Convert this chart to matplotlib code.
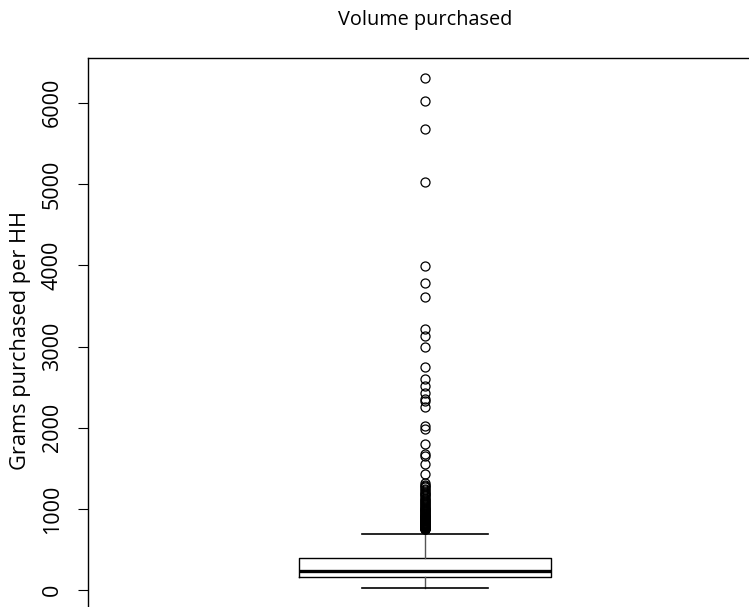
import matplotlib
matplotlib.use("Agg")
import matplotlib.pyplot as plt

plt.rcParams['font.family'] = ['Open Sans', 'DejaVu Sans']

# box summary (grams per household)
q1, median, q3 = 164, 237, 397
whisker_low, whisker_high = 28, 693

# outliers above the upper whisker
dense_outliers = [752, 756, 760, 763, 767, 770, 773, 776, 781, 785, 788, 792,
                  795, 801, 806, 810, 812, 816, 820, 826, 830, 833, 840, 844,
                  848, 855, 862, 866, 870, 878, 886, 893, 900, 905, 910, 918,
                  925, 935, 944, 952, 960, 970, 980, 990, 1000, 1005, 1012,
                  1025, 1035, 1048, 1060, 1072, 1085, 1098, 1110, 1125, 1140,
                  1155, 1170, 1185, 1200, 1215, 1232, 1250, 1268, 1285, 1300, 1318]
sparse_outliers = [1433, 1554, 1652, 1677, 1800, 1990, 2020, 2250, 2330, 2360,
                   2430, 2510, 2600, 2750, 2990, 3130, 3220, 3610, 3780, 3990,
                   5020, 5680, 6020, 6300]

yticks = [0, 1000, 2000, 3000, 4000, 5000, 6000]

stats = [dict(med=median, q1=q1, q3=q3, whislo=whisker_low, whishi=whisker_high,
              fliers=dense_outliers + sparse_outliers)]

fig = plt.figure(figsize=(7.49, 6.07), dpi=100)
ax = fig.add_axes([0.1171, -0.0023, 0.9003, 0.9067])

ax.bxp(stats, positions=[1], widths=0.8, showfliers=True,
       boxprops=dict(color='black', lw=1.0),
       medianprops=dict(color='black', lw=2.4),
       whiskerprops=dict(color='#555555', lw=1.0),
       capprops=dict(color='black', lw=1.2),
       capwidths=0.4,
       flierprops=dict(marker='o', markerfacecolor='none', markeredgecolor='black',
                       markersize=6.5, markeredgewidth=0.9))

ax.set_xlim(1 - 1.071, 1 + 1.071)
ax.set_ylim(-223, 6551)
ax.set_xticks([])
ax.set_yticks(yticks)
ax.set_yticklabels([str(t) for t in yticks], rotation=90, va='center', fontsize=15.5)
ax.tick_params(axis='y', length=7, width=0.8, pad=11, colors='black')
for s in ax.spines.values():
    s.set_linewidth(1.0)

ax.set_ylabel('Grams purchased per HH', fontsize=15.7, va='center')
ax.yaxis.set_label_coords(-0.1, 0.486)
ax.set_title('Volume purchased', fontsize=14.3, pad=24)

fig.savefig('out.png', dpi=100)
